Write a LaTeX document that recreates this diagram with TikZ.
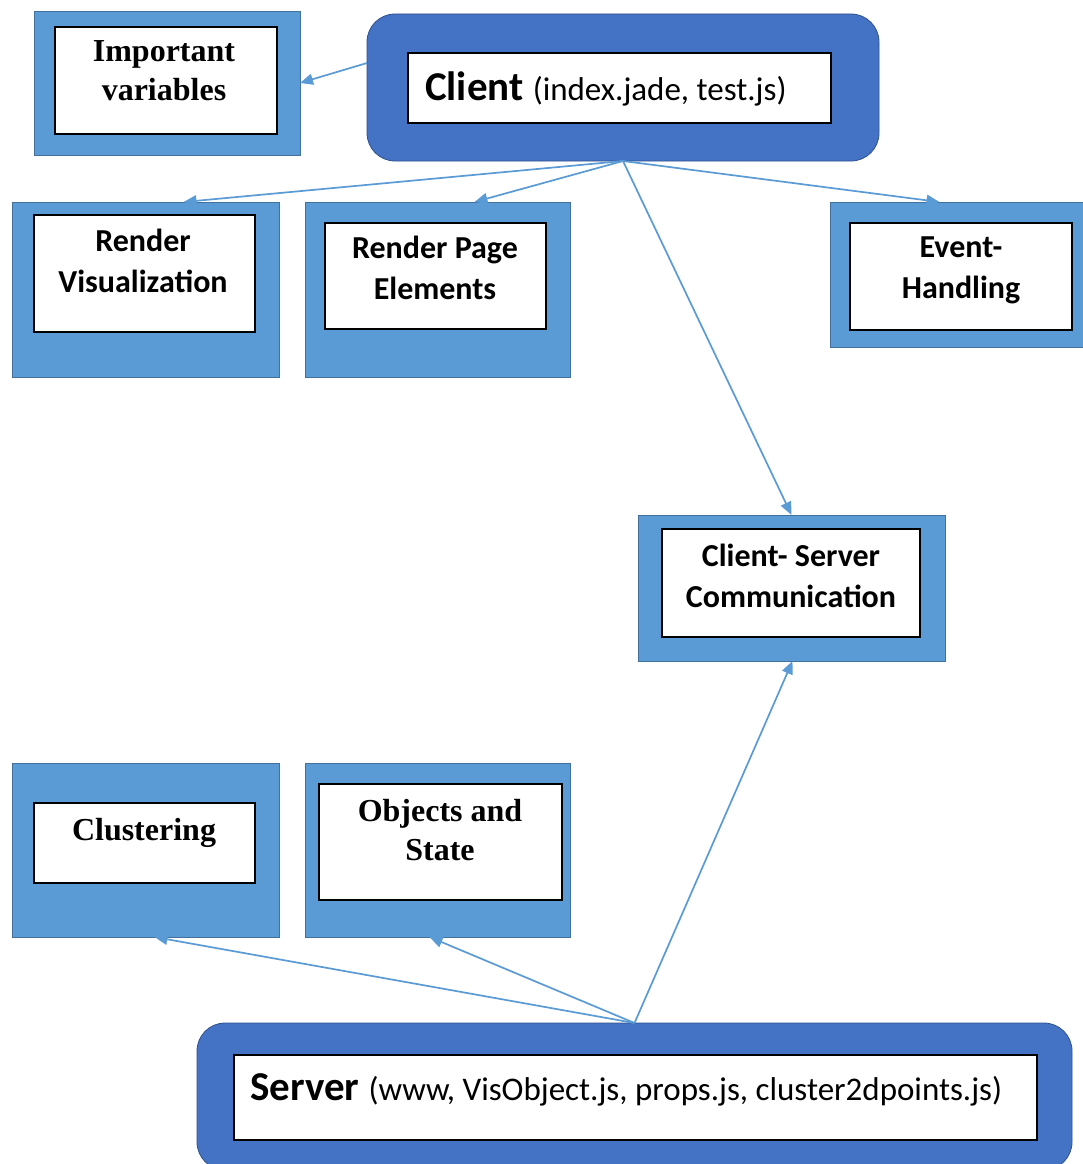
\documentclass[tikz,border=0pt]{standalone}
\usepackage{fontspec}
\usetikzlibrary{arrows.meta}
\newfontfamily\calfont{Carlito}
\newfontfamily\tmsfont{Liberation Serif}
\definecolor{lb}{HTML}{5B9BD5}
\definecolor{db}{HTML}{4472C4}
\definecolor{lbe}{HTML}{41719C}
\definecolor{dbe}{HTML}{2F528F}
\newcommand\cbox[6]{\node[#1, minimum width={#4-#2}, minimum height={#5-#3}] (#6) at ({(#2+#4)/2},{(#3+#5)/2}) {};}
\begin{document}
\begin{tikzpicture}[x=1pt,y=-1pt,
 outerbox/.style={draw=lbe, line width=0.8pt, fill=lb, inner sep=0pt, outer sep=0pt, rectangle},
 mainbox/.style={draw=dbe, line width=0.8pt, fill=db, rounded corners=28pt, inner sep=0pt, outer sep=0pt, rectangle},
 innerbox/.style={draw=black, line width=1.4pt, fill=white, inner sep=0pt, outer sep=0pt, rectangle},
 lbl/.style={font=\calfont\bfseries\fontsize{32}{41}\selectfont, align=center, inner sep=0pt, anchor=base},
 tlbl/.style={font=\tmsfont\bfseries\fontsize{32}{39}\selectfont, align=center, inner sep=0pt, anchor=base},
 conn/.style={draw=lb, line width=1.7pt, -{Triangle[length=13pt,width=11pt]}}
]
\useasboundingbox[fill=white] (0,0) rectangle (1083,1164);

% Important variables
\cbox{outerbox}{34}{11}{300}{155}{iv}
\cbox{innerbox}{55}{27}{277}{134}{ivin}
\node[tlbl] (ivt) at (164,100) {Important\\variables};

% Client
\cbox{mainbox}{367}{14}{879}{161}{client}
\cbox{innerbox}{408}{53}{831}{123}{clientin}
\node[anchor=base west, inner sep=0pt] (clientt) at (425,100)
  {\calfont\bfseries\fontsize{41}{48}\selectfont Client {\mdseries\fontsize{33}{38}\selectfont(index.jade, test.js)}};

% Render Visualization
\cbox{outerbox}{12}{202}{279}{377}{rv}
\cbox{innerbox}{34}{215}{255}{332}{rvin}
\node[lbl] (rvt) at (143,292) {Render\\Visualization};

% Render Page Elements
\cbox{outerbox}{305}{202}{570}{377}{rpe}
\cbox{innerbox}{325}{223}{546}{329}{rpein}
\node[lbl] (rpet) at (435,299) {Render Page\\Elements};

% Event-Handling
\cbox{outerbox}{830}{202}{1093}{347}{eh}
\cbox{innerbox}{850}{223}{1072}{330}{ehin}
\node[lbl] (eht) at (961,298) {Event-\\Handling};

% Client-Server Communication
\cbox{outerbox}{638}{515}{945}{661}{cs}
\cbox{innerbox}{662}{529}{920}{637}{csin}
\node[lbl] (cst) at (791,607) {Client- Server\\Communication};

% Clustering
\cbox{outerbox}{12}{763}{279}{937}{cl}
\cbox{innerbox}{34}{803}{255}{883}{clin}
\node[tlbl] (clt) at (144,840) {Clustering};

% Objects and State
\cbox{outerbox}{305}{763}{570}{937}{os}
\cbox{innerbox}{319}{784}{562}{900}{osin}
\node[tlbl] (ost) at (440,860) {Objects and\\State};

% Server
\cbox{mainbox}{197}{1023}{1072}{1170}{server}
\cbox{innerbox}{234}{1055}{1037}{1140}{serverin}
\node[anchor=base west, inner sep=0pt] (servert) at (250,1100)
  {\calfont\bfseries\fontsize{41}{48}\selectfont Server {\mdseries\fontsize{33}{38}\selectfont(www, VisObject.js, props.js, cluster2dpoints.js)}};

% connectors
\draw[conn] ([yshift=24.5pt]client.west) -- (iv.east);
\draw[conn] (client.south) -- ([xshift=38pt]rv.north);
\draw[conn] (client.south) -- ([xshift=37pt]rpe.north);
\draw[conn] (client.south) -- ([xshift=-22pt]eh.north);
\draw[conn] (client.south) -- (cs.north);
\draw[conn] (server.north) -- ([xshift=1pt]cs.south);
\draw[conn] (server.north) -- ([xshift=9pt]cl.south);
\draw[conn] (server.north) -- ([xshift=-8pt]os.south);
\end{tikzpicture}
\end{document}
